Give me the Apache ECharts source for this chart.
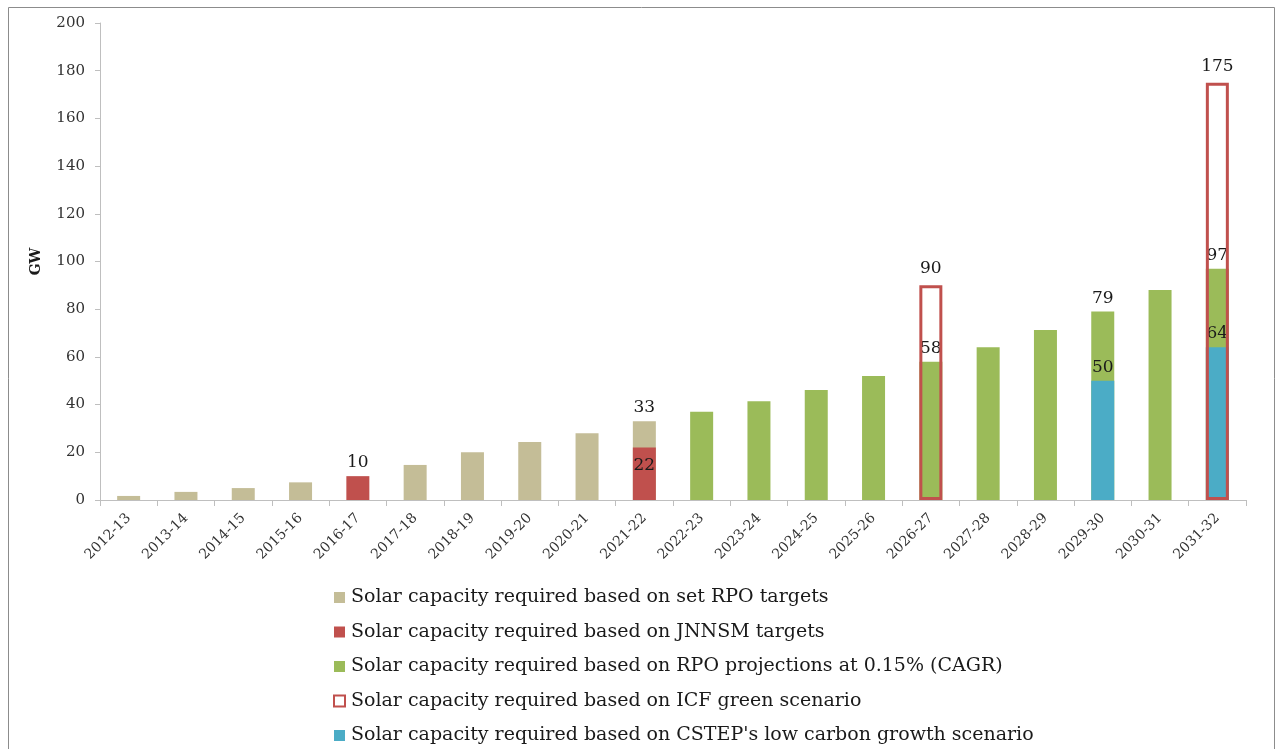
<!DOCTYPE html>
<html>
<head>
<meta charset="utf-8">
<script src="https://cdn.jsdelivr.net/npm/echarts@6/dist/echarts.min.js"></script>
<style>
html,body{margin:0;padding:0;background:#fff;}
#chart{width:1279px;height:749px;}
</style>
</head>
<body>
<div id="chart"></div>
<script>
const categories = ['2012-13','2013-14','2014-15','2015-16','2016-17','2017-18','2018-19','2019-20','2020-21','2021-22','2022-23','2023-24','2024-25','2025-26','2026-27','2027-28','2028-29','2029-30','2030-31','2031-32'];
const yTicks = [0,20,40,60,80,100,120,140,160,180,200];

const rpoTargets = [1.7,3.4,5.0,7.4,null,14.7,20,24.3,28,33,null,null,null,null,null,null,null,null,null,null];
const jnnsmTargets = [null,null,null,null,10,null,null,null,null,22,null,null,null,null,null,null,null,null,null,null];
const rpoProjections = [null,null,null,null,null,null,null,null,null,null,37,41.4,46.1,52,58,64,71.3,79,88,97];
const icfGreen = [null,null,null,null,null,null,null,null,null,null,null,null,null,null,90,null,null,null,null,175];
const cstepLowCarbon = [null,null,null,null,null,null,null,null,null,null,null,null,null,null,null,null,null,50,null,64];

const labelledRpo = [9];
const labelledJnnsm = [4,9];
const labelledProj = [14,17,19];
const labelledIcf = [14,19];
const labelledCstep = [17,19];

const names = [
  'Solar capacity required based on set RPO targets',
  'Solar capacity required based on JNNSM targets',
  'Solar capacity required based on RPO projections at 0.15% (CAGR)',
  'Solar capacity required based on ICF green scenario',
  "Solar capacity required based on CSTEP's low carbon growth scenario"
];

const FONT = 'DejaVu Serif';
const labelBase = {fontFamily: FONT, fontSize: 17, color: '#1a1a1a'};

function build(values, labelled, special) {
  return values.map((v, i) => {
    if (v === null) return null;
    const item = {value: v};
    if (labelled.indexOf(i) >= 0) {
      item.label = Object.assign({show: true, position: 'top', distance: 5,
        formatter: p => String(Math.round(p.value))}, labelBase, (special && special[i]) || {});
    }
    return item;
  });
}

const common = {type: 'bar', barWidth: 23, barGap: '-100%', label: {show: false}, emphasis: {disabled: true}};

const chart = echarts.init(document.getElementById('chart'));
chart.setOption({
  animation: false,
  backgroundColor: '#ffffff',
  graphic: [{type: 'rect', shape: {x: 8.5, y: 7.5, width: 1266, height: 800}, style: {fill: 'none', stroke: '#8c8c8c', lineWidth: 1}, silent: true}],
  grid: {left: 100, right: 33, top: 23, bottom: 249},
  legend: {
    orient: 'vertical', left: 333, top: 588, height: 300, padding: 0,
    icon: 'rect',
    itemWidth: 11, itemHeight: 11, itemGap: 15.5,
    data: names,
    textStyle: {fontFamily: FONT, fontSize: 19, color: '#1a1a1a', padding: [0,0,0,1]}
  },
  xAxis: {
    type: 'category', data: categories,
    axisLine: {lineStyle: {color: '#bfbfbf', width: 1}},
    axisTick: {show: true, alignWithLabel: false, length: 6, lineStyle: {color: '#bfbfbf'}},
    axisLabel: {rotate: 45, fontFamily: FONT, fontSize: 14, color: '#333', margin: 16, interval: 0}
  },
  yAxis: {
    type: 'value', min: yTicks[0], max: yTicks[yTicks.length-1], interval: 20,
    name: 'GW', nameLocation: 'middle', nameRotate: 90, nameGap: 57,
    nameTextStyle: {fontFamily: FONT, fontSize: 14, fontWeight: 'bold', color: '#1a1a1a'},
    axisLine: {show: true, lineStyle: {color: '#bfbfbf'}},
    axisTick: {show: true, length: 5, lineStyle: {color: '#bfbfbf'}},
    splitLine: {show: false},
    axisLabel: {fontFamily: FONT, fontSize: 15, color: '#333', margin: 15}
  },
  series: [
    Object.assign({}, common, {name: names[0], data: build(rpoTargets, labelledRpo), itemStyle: {color: '#C4BD97'}}),
    Object.assign({}, common, {name: names[1], data: build(jnnsmTargets, labelledJnnsm, {9: {position: 'insideTop', distance: 10}}), itemStyle: {color: '#C0504D'}}),
    Object.assign({}, common, {name: names[2], data: build(rpoProjections, labelledProj), itemStyle: {color: '#9BBB59'}}),
    Object.assign({}, common, {name: names[4], data: build(cstepLowCarbon, labelledCstep), itemStyle: {color: '#4BACC6'}}),
    Object.assign({}, common, {name: names[3], data: build(icfGreen, labelledIcf, {14: {distance: 8}, 19: {distance: 8}}), itemStyle: {color: 'rgba(255,255,255,0)', borderColor: '#C0504D', borderWidth: 3}, z: 3})
  ]
});
</script>
</body>
</html>
